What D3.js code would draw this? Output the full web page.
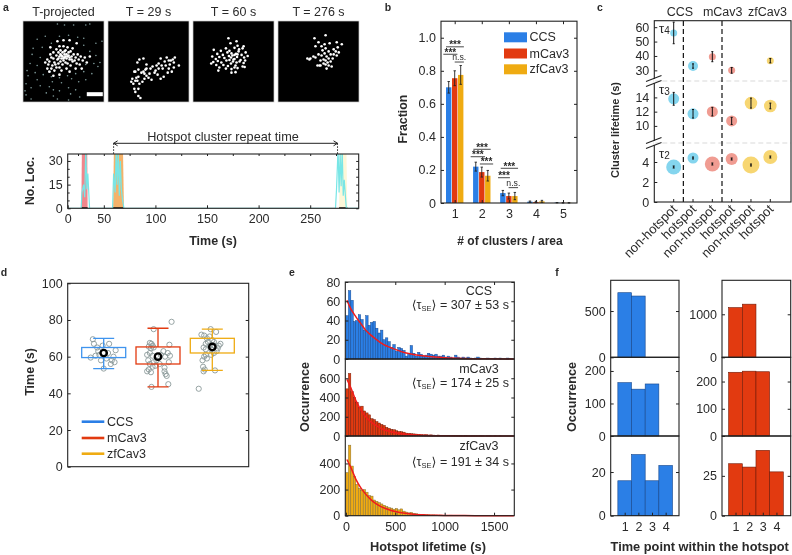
<!DOCTYPE html>
<html><head><meta charset="utf-8">
<script src="https://cdn.jsdelivr.net/npm/d3@7"></script>
<style>html,body{margin:0;background:#fff}svg{display:block;filter:blur(0.3px)}text{font-family:"Liberation Sans","DejaVu Sans",Arial,sans-serif;fill:#2a2a2a}</style>
</head><body><div id="c"></div>
<script>
// ---------- data ----------
const imageTitles=["T-projected","T = 29 s","T = 60 s","T = 276 s"];
const dotsBright=[[22,41],[24,38],[26,40],[28,36],[25,43],[29,44],[31,41],[30,37],[33,34],[35,31],[36,35],[34,38],[37,29],[39,31],[38,34],[40,37],[37,40],[35,42],[33,46],[31,49],[36,46],[39,43],[42,41],[41,36],[43,33],[42,29],[45,31],[44,35],[46,38],[44,42],[47,44],[49,40],[48,35],[47,30],[50,33],[52,36],[51,39],[53,42],[55,38],[54,33],[57,35],[59,39],[61,36],[56,43],[49,27],[44,26],[40,25],[36,25],[33,28],[30,31],[27,33],[41,33],[39,35],[43,37],[45,34],[42,35],[38,37],[40,39],[41,30],[46,36],[37,33],[35,37],[48,38],[32,43],[28,47],[24,47],[26,50],[43,47],[38,49],[46,50],[52,47],[30,54],[36,53],[58,47],[63,41],[66,35],[40,19],[46,19],[34,20],[53,22],[27,26]];
const dotsDim=[[34,3],[41,4],[50,4],[62,4],[66,3],[14,18],[22,15],[36,15],[45,14],[54,16],[60,17],[78,20],[10,27],[19,26],[28,22],[60,24],[72,22],[9,33],[17,36],[66,30],[72,34],[76,41],[7,42],[14,44],[62,43],[70,42],[74,45],[4,49],[12,51],[20,53],[28,55],[36,56],[44,54],[52,52],[60,50],[68,52],[5,54],[14,58],[27,50],[29,60],[38,61],[48,57],[55,60],[62,58],[3,62],[8,66],[17,64],[26,65],[30,68],[36,69],[45,66],[52,68],[2,69],[3,73],[8,77],[23,71],[30,74],[34,77],[45,78],[47,72],[56,75]];
const dots29=[[29,41],[31,38],[35,37],[38,43],[27,50],[26,50],[30,48],[35,50],[38,47],[42,47],[44,45],[48,44],[50,42],[52,37],[56,40],[60,39],[62,39],[64,38],[58,36],[66,36],[70,44],[61,43],[57,44],[65,46],[54,47],[59,51],[63,50],[55,55],[52,57],[49,53],[46,51],[41,52],[38,54],[36,52],[33,51],[30,55],[28,56],[29,59],[27,59],[24,57],[23,60],[25,62],[26,67],[30,67],[27,70],[30,74],[32,76],[36,57],[40,56],[43,58],[31,62],[34,60],[37,48],[47,49],[53,44],[50,47],[60,47],[65,41]];
const dots60=[[35,17],[43,20],[37,22],[44,24.5],[50,25],[20.5,28.5],[27.5,29.5],[32.5,27],[36,29.5],[41,26.5],[45.5,28],[49,27],[52,31],[24,32.5],[29.5,33.5],[34,31],[38,32],[42.5,32.5],[45,30],[48,33.5],[50.5,36],[19,35],[22.5,37.5],[26,35.5],[31,36.5],[35.5,34.5],[37.5,36],[41,37.5],[43.5,35.5],[47,38.5],[51.5,39],[54,34.5],[20,40.5],[24.5,39.5],[28,41],[33,39],[36,38.5],[39.5,40],[43,41],[46,40],[50,41.5],[18,42],[23,43.5],[26,46],[30,43.5],[34.5,44.5],[37.5,42],[42,44],[44,46.5],[49,45],[25,49],[32.5,47],[38,47.5],[41,46],[51,45.5],[38,51],[42,50.5],[39,34],[41,33.5],[44,33],[40,38]];
const dots276=[[47,14],[36,17],[40,21],[46,23],[51,22],[58,21],[63,23],[37,25],[43,25],[47,27],[55,28],[59,26],[44,29],[50,30],[57,30],[60,31],[52,33],[55,33],[58,34],[40,33],[46,32],[43,34],[48,35],[35,35],[37,36],[50,37],[54,37],[32,37],[45,38],[42,39],[47,39],[31,38],[29,37],[49,41],[45,42],[52,40],[39,44],[42,44],[50,44],[47,43],[48,47],[41,44],[53,45]];

const traceT=[15,28,28.8,30.4,31.5,32.5,33.5,34.5,36.2,58.5,59.5,61,62,63,64,65,66,67,68,69.5,274.5,275.5,277,278,279,280,281,282,283,285,297];
const traceV=[0,0,10,15,7,38,12,22,0,0,22,10,38,15,36,8,30,12,6,0,0,12,38,10,36,14,38,8,18,0,0];
const hotT=[[28.2,28.8,33.9,34.3],[59,59.8,68.5,69.5],[278,279,285,286]];
const hotV=[0,40,40,0];
const hotColors=["#f0868c","#f4b26a","#fdf7d8"];
const repeatLabel="Hotspot cluster repeat time";
const repeatFrom=59.5, repeatTo=276.5;
const timeTickT=[15,50,100,150,200,250], timeTickL=["0","50","100","150","200","250"];

const groupsB=[1,2,3,4,5];
const seriesNames=["CCS","mCav3","zfCav3"];
const fracCCS=[0.70,0.22,0.06,0.008,0.002], errCCS=[0.035,0.027,0.016,0.004,0.001];
const fracM=[0.755,0.187,0.042,0.006,0.001], errM=[0.045,0.03,0.018,0.004,0.001];
const fracZ=[0.775,0.165,0.042,0.01,0.001], errZ=[0.057,0.032,0.022,0.006,0.001];
const sigX1=[0.68,0.58,1.0,1.69,1.59,1.93,2.70,2.60,2.99];
const sigX2=[1.34,1.10,1.34,2.33,2.12,2.42,3.34,3.04,3.34];
const sigY=[0.945,0.90,0.853,0.325,0.28,0.236,0.21,0.153,0.093];
const sigLabel=["***","***","n.s.","***","***","***","***","***","n.s."];

const cCats=["non-hotspot","hotspot","non-hotspot","hotspot","non-hotspot","hotspot"];
const tau4=[56,33,39.5,30,null,36.7], tau4E=[7.5,1.5,3.5,2,0,1.5], tau4R=[3.5,5,3.5,3.5,0,3.5];
const tau3=[13.8,11.7,12,10.7,13.2,12.8], tau3E=[0.9,0.6,0.6,0.5,0.7,0.4], tau3R=[5.5,5.5,5.5,5.5,6.3,6.3];
const tau2=[3.5,4.4,3.8,4.3,3.7,4.5], tau2E=[0.1,0.1,0.1,0.1,0.1,0.1], tau2R=[7.5,5.5,7.5,6,8.5,7];
const cTicks=[0,2,4,10,12,14,30,40,50,60];

const boxQ1=[59.5,56,62], boxQ3=[65,65.3,70], boxLo=[53.5,43.5,52.5], boxHi=[70,75.5,75], boxMean=[62,60,65.3];
const ptsCCS=[[-.2,69.5],[-.18,67],[-.12,65],[.1,67],[.22,63.5],[-.24,59.5],[-.08,61],[.05,59],[.15,58],[.2,57],[.13,56],[0,53.5],[-.1,63],[-.02,66],[.08,62],[-.15,60.5],[.18,60],[-.05,58]];
const ptsM=[[-.08,75],[.25,79],[.21,66.5],[-.15,67.5],[-.12,67],[-.1,66],[-.17,65.5],[-.13,64.5],[-.08,65],[-.15,62],[-.2,61],[.1,63],[.18,62],[.13,60],[.22,60.5],[-.18,58],[-.08,57],[-.03,58],[.2,57],[-.15,56],[-.1,54.5],[-.05,55],[.12,54],[-.2,52],[-.13,51.5],[-.17,53],[.12,52],[.14,50.5],[.16,49.5],[.03,56],[-.12,43.5],[.19,45],[-.1,60.5],[.05,61]];
const ptsZ=[[-.03,75],[.07,73.5],[-.15,71.5],[-.05,71],[-.1,70],[-.2,72],[0,69],[.03,68],[-.08,68],[-.12,67],[.12,66],[.15,67],[.1,64.5],[-.16,65],[-.12,64],[-.05,66],[.03,62],[-.02,61],[-.12,61],[-.15,60],[-.18,58],[-.1,59],[-.17,54.5],[-.14,53],[-.16,52],[.05,52.5],[-.25,42.5],[.04,66],[-.02,64],[.08,63]];

const binWidth=25;
const histCCS=[45,71,61,39,40,46,41,30,45,35,38,39,32,27,30,20,22,18,12,15,8,12,11,9,3,6,14,6,3,7,5,3,4,6,5,4,5,3,3,4,2,3,2,1,4,2,1,2,1,2,1,0,1,2,1,0,0,1,0,0,1,0,1,0,0,1,0,0];
const histM=[490,650,460,400,350,300,310,260,240,220,180,170,150,135,120,110,90,80,70,65,55,48,45,40,30,28,25,22,20,18,15,12,14,10,12,9,8,10,6,6,5,8,4,4,3,5,3,2,3,2,1,2,1,1,2,1,0,1,1,0,1,0,1,0,0,0,0,0];
const histZ=[330,540,380,300,240,210,195,200,180,155,150,120,110,100,90,80,70,62,58,50,55,45,52,35,28,22,25,18,15,12,10,9,8,7,6,6,5,4,5,3,3,2,4,3,2,1,2,1,1,1,0,1,0,1,0,0,1,0,0,0,1,0,0,0,0,0,0,0];
const fitT=[10,50,100,150,200,250,300,350,400,450,500,600,700,800,900,1000,1200,1400,1700];
const fitCCS=[61,52,44,37,30,25,21,17,14,12,10,6.5,4.5,3,2,1.3,.6,.3,.1];
const fitM=[590,500,370,275,200,150,112,82,60,45,33,18,10,5,3,1.5,.5,.2,.1];
const fitZ=[430,370,280,215,165,125,95,72,55,42,32,18,10,6,3.5,2,.7,.2,.1];
const histText=["⟨τ","⟩ = 307 ± 53 s","⟩ = 174 ± 25 s","⟩ = 191 ± 34 s"];

const tpCats=[1,2,3,4];
const fBlue1=[698,662,null,null], fBlue2=[164,144,160,null], fBlue3=[16,28,16,23];
const fRed1=[1155,1235,null,null], fRed2=[234,238,236,null], fRed3=[32.6,30.5,41,27.5];

// ---------- helpers ----------
const blue="#2b7fe6", red="#e23a10", orange="#efab12", TICK=12.5;
const svg=d3.select("#c").append("svg").attr("width",792).attr("height",555);
const txt=(x,y,s,o={})=>{const t=svg.append("text").attr("x",x).attr("y",y).attr("font-size",o.size||12)
  .attr("text-anchor",o.anchor||"middle").attr("dominant-baseline","central").attr("font-weight",o.bold?"bold":"normal").text(s);
  if(o.rot)t.attr("transform",`rotate(${o.rot} ${x} ${y})`);return t;};
function frame(xr,yr){svg.append("rect").attr("x",xr[0]).attr("y",yr[1]).attr("width",xr[1]-xr[0]).attr("height",yr[0]-yr[1])
  .attr("fill","none").attr("stroke","#222").attr("stroke-width",1.1);}
function clean(g){g.select(".domain").remove();g.selectAll("line").attr("stroke","#222").attr("stroke-width",1);g.selectAll("text").attr("font-size",TICK);return g;}
function axL(y,x,vals,fmt,len=3){return clean(svg.append("g").attr("transform",`translate(${x},0)`).call(d3.axisLeft(y).tickValues(vals).tickSizeInner(-len).tickSizeOuter(0).tickPadding(5).tickFormat(fmt||d3.format("d"))));}
function axR(y,x,vals,len=3){return clean(svg.append("g").attr("transform",`translate(${x},0)`).call(d3.axisRight(y).tickValues(vals).tickSizeInner(-len).tickSizeOuter(0).tickFormat("")));}
function axB(s,y,vals,fmt,len=3){return clean(svg.append("g").attr("transform",`translate(0,${y})`).call(d3.axisBottom(s).tickValues(vals).tickSizeInner(-len).tickSizeOuter(0).tickPadding(6).tickFormat(fmt||d3.format("d"))));}
function axT(s,y,vals,len=3){return clean(svg.append("g").attr("transform",`translate(0,${y})`).call(d3.axisTop(s).tickValues(vals).tickSizeInner(-len).tickSizeOuter(0).tickFormat("")));}

[["a",6,7],["b",388,7],["c",600,7],["d",4,272],["e",292,272],["f",557,272]].forEach(d=>txt(d[1],d[2],d[0],{bold:true,size:10.5}));

// ---------- a images ----------
const imgX=[23,108,193,278];
[[dotsBright,dotsDim],[dots29],[dots60],[dots276]].forEach((sets,i)=>{
  const x=d3.scaleLinear().domain([0,80]).range([imgX[i],imgX[i]+81]);
  const y=d3.scaleLinear().domain([0,80]).range([21,102]);
  svg.append("rect").attr("x",imgX[i]).attr("y",21).attr("width",81).attr("height",81).attr("fill","#000").attr("stroke","#ccc").attr("stroke-width",.7);
  txt(imgX[i]+40.5,11.5,imageTitles[i],{size:12.5});
  if(sets[1])svg.append("g").selectAll("circle").data(sets[1]).join("circle").attr("cx",d=>x(d[0])).attr("cy",d=>y(d[1])).attr("r",.8).attr("fill","#7f9a9a");
  svg.append("g").selectAll("circle").data(sets[0]).join("circle").attr("cx",d=>x(d[0])).attr("cy",d=>y(d[1])).attr("r",1.3).attr("fill","#fff");
  if(!i)svg.append("rect").attr("x",x(63)).attr("y",y(70.3)).attr("width",16).attr("height",4).attr("fill","#fff");
});

// ---------- a trace ----------
{
 const x=d3.scaleLinear().domain([15,297]).range([67.7,358.7]);
 const y=d3.scaleLinear().domain([0,34.4]).range([208.3,154]);
 svg.append("defs").append("clipPath").attr("id","clipA").append("rect").attr("x",67.7).attr("y",154).attr("width",291).attr("height",54.3);
 const g=svg.append("g").attr("clip-path","url(#clipA)");
 hotT.forEach((ts,i)=>{
   g.append("path").datum(ts.map((t,k)=>[t,hotV[k]])).attr("fill",hotColors[i]).attr("d",d3.area().x(d=>x(d[0])).y0(y(0)).y1(d=>y(d[1])));
   g.append("line").attr("x1",x(ts[0])).attr("x2",x(ts[3])).attr("y1",y(0)).attr("y2",y(0)).attr("stroke","#111").attr("stroke-width",2);
 });
 g.append("path").datum(traceT.map((t,i)=>[t,traceV[i]])).attr("fill","none").attr("stroke","#78e6e6").attr("stroke-width",1.2)
  .attr("d",d3.line().x(d=>x(d[0])).y(d=>y(d[1])));
 frame([67.7,358.7],[208.3,154]);
 axL(y,67.7,[0,15,30]);
 const minors=[5,10,20,25];
 axL(y,67.7,minors,()=>"",2); axR(y,358.7,[0,5,10,15,20,25,30],2.5);
 axB(x,208.3,timeTickT,(d,i)=>timeTickL[i]); axT(x,154,[50,100,150,200,250,25,75,125,175,225,275],2);
 txt(30,181,"No. Loc.",{bold:true,rot:-90,size:12.2});
 txt(213,241,"Time (s)",{bold:true,size:12.5});
 txt(223,136.5,repeatLabel,{size:12.7});
 const ay=143.3;
 svg.append("line").attr("x1",x(repeatFrom)).attr("x2",x(repeatTo)).attr("y1",ay).attr("y2",ay).attr("stroke","#222").attr("stroke-width",1);
 [[repeatFrom,1],[repeatTo,-1]].forEach(([t,s])=>{
   svg.append("path").attr("d",`M${x(t)+4*s},${ay-2.5}L${x(t)},${ay}L${x(t)+4*s},${ay+2.5}`).attr("fill","none").attr("stroke","#222");
   svg.append("line").attr("x1",x(t)).attr("x2",x(t)).attr("y1",ay).attr("y2",154).attr("stroke","#222").attr("stroke-dasharray","1.5 1.5");
 });
}

// ---------- b ----------
{
 const x=d3.scaleLinear().domain([1,5]).range([454.7,563]);
 const y=d3.scaleLinear().domain([0,1.1]).range([203,21.2]);
 const off=[-6,0,6], colors=[blue,red,orange], vals=[fracCCS,fracM,fracZ], errs=[errCCS,errM,errZ];
 vals.forEach((v,s)=>{
   const g=svg.append("g");
   g.selectAll("rect").data(groupsB).join("rect").attr("x",d=>x(d)+off[s]-2.7).attr("width",5.4)
    .attr("y",(d,i)=>y(v[i])).attr("height",(d,i)=>y(0)-y(v[i])).attr("fill",colors[s]);
   groupsB.forEach((d,i)=>{
     const cx=x(d)+off[s],a=y(v[i]-errs[s][i]),b=y(v[i]+errs[s][i]);
     g.append("path").attr("d",`M${cx},${a}V${b}M${cx-1.2},${a}h2.4M${cx-1.2},${b}h2.4`).attr("stroke","#222").attr("fill","none").attr("stroke-width",.9);
   });
 });
 sigLabel.forEach((l,i)=>{
   svg.append("line").attr("x1",x(sigX1[i])).attr("x2",x(sigX2[i])).attr("y1",y(sigY[i])).attr("y2",y(sigY[i])).attr("stroke","#333").attr("stroke-width",.9);
   txt((x(sigX1[i])+x(sigX2[i]))/2,y(sigY[i])-(l==="***"?2:5),l,{size:l==="***"?10:8.7,bold:l==="***"});
 });
 frame([441,577],[203,21.2]);
 axL(y,441,[0,.2,.4,.6,.8,1],d=>d===0?"0":d3.format(".1f")(d));
 axR(y,577,[.2,.4,.6,.8,1]);
 axB(x,203,groupsB); axT(x,21.2,groupsB);
 seriesNames.forEach((n,i)=>{
   const sy=[32.3,48.5,64.3][i];
   svg.append("rect").attr("x",504).attr("y",sy).attr("width",23).attr("height",10).attr("fill",colors[i]);
   txt(529.5,sy+5,n,{anchor:"start",size:12.5});
 });
 txt(403,119,"Fraction",{rot:-90,bold:true,size:12.4});
 txt(510,241,"# of clusters / area",{bold:true});
}

// ---------- c ----------
{
 const x=d3.scaleLinear().domain([0,5]).range([673.7,770.3]);
 const y=d3.scaleLinear().domain([0,5.9,7.6,16.3,22.6,64.5]).range([202,143,143,81,81,20.7]);
 const col=["#84d5ee","#84d5ee","#f09c92","#f09c92","#f7d672","#f7d672"];
 [[tau2,tau2E,tau2R],[tau3,tau3E,tau3R],[tau4,tau4E,tau4R]].forEach(([v,e,r])=>{
   cCats.forEach((c,i)=>{ if(v[i]===null)return;
     svg.append("circle").attr("cx",x(i)).attr("cy",y(v[i])).attr("r",r[i]).attr("fill",col[i]);
     const a=y(v[i]-e[i]),b=y(v[i]+e[i]);
     svg.append("path").attr("d",`M${x(i)},${a}V${b}M${x(i)-1},${a}h2M${x(i)-1},${b}h2`).attr("stroke","#111").attr("stroke-width",1).attr("fill","none");
   });
 });
 [81,143].forEach(py=>{
   svg.append("line").attr("x1",654.3).attr("x2",791).attr("y1",py).attr("y2",py).attr("stroke","#d9d9d9").attr("stroke-dasharray","5 3");
 });
 [.5,2.5].forEach(k=>svg.append("line").attr("x1",x(k)).attr("x2",x(k)).attr("y1",21).attr("y2",202).attr("stroke","#111").attr("stroke-width",1.2).attr("stroke-dasharray","5 3"));
 frame([654.3,791],[202,20.7]);
 [81,143].forEach(py=>{
   svg.append("line").attr("x1",654.3).attr("x2",654.3).attr("y1",py-2).attr("y2",py+2).attr("stroke","#fff").attr("stroke-width",2);
   [-2.5,2.5].forEach(o=>svg.append("line").attr("x1",646).attr("x2",661.5).attr("y1",py+3+o).attr("y2",py-3+o).attr("stroke","#222").attr("stroke-width",1.1));
 });
 axL(y,654.3,cTicks);
 cCats.forEach((c,i)=>{
   svg.append("line").attr("x1",x(i)).attr("x2",x(i)).attr("y1",202).attr("y2",199).attr("stroke","#222");
   svg.append("text").attr("transform",`translate(${x(i)+4},210) rotate(-45)`).attr("text-anchor","end").attr("font-size",13).text(c);
 });
 [["CCS",680],["mCav3",722.7],["zfCav3",767.5]].forEach(d=>txt(d[1],11.5,d[0],{size:12.5}));
 [["4",28],["3",89],["2",153]].forEach(d=>{
   const t=txt(659,d[1],"τ",{anchor:"start",size:13});
   t.append("tspan").attr("font-size",10).attr("dy",1.5).text(d[0]);
 });
 txt(615,130,"Cluster lifetime (s)",{rot:-90,bold:true,size:11});
}

// ---------- d ----------
{
 const x=d3.scaleLinear().domain([1,3]).range([103.7,212.3]);
 const y=d3.scaleLinear().domain([0,100]).range([466.7,283.3]);
 [ptsCCS,ptsM,ptsZ].forEach((p,s)=>{
   svg.append("g").selectAll("circle").data(p).join("circle").attr("cx",d=>x(s+1+d[0])).attr("cy",d=>y(d[1])).attr("r",2.6)
    .attr("fill","none").attr("stroke","#8b9a9a").attr("stroke-width",.9);
 });
 [blue,red,orange].forEach((c,i)=>{
   const cx=x(i+1),g=svg.append("g").attr("stroke",c==blue?"#3f94ee":c).attr("stroke-width",1.3).attr("fill","none");
   g.append("rect").attr("x",cx-22).attr("width",44).attr("y",y(boxQ3[i])).attr("height",y(boxQ1[i])-y(boxQ3[i]));
   g.append("path").attr("d",`M${cx},${y(boxLo[i])}V${y(boxQ1[i])}M${cx},${y(boxQ3[i])}V${y(boxHi[i])}M${cx-10.5},${y(boxLo[i])}h21M${cx-10.5},${y(boxHi[i])}h21`);
   svg.append("circle").attr("cx",cx).attr("cy",y(boxMean[i])).attr("r",3.2).attr("fill","none").attr("stroke","#000").attr("stroke-width",2.3);
 });
 frame([67.7,248.7],[466.7,283.3]);
 axL(y,67.7,[0,20,40,60,80,100]); axR(y,248.7,[20,40,60,80]);
 seriesNames.forEach((n,i)=>{
   const ly=[421.7,438,453.7][i];
   svg.append("line").attr("x1",81.7).attr("x2",104.3).attr("y1",ly).attr("y2",ly).attr("stroke",[blue,red,orange][i]).attr("stroke-width",2.6);
   txt(107,ly,n,{anchor:"start",size:12.5});
 });
 txt(30,372,"Time (s)",{rot:-90,bold:true,size:12.5});
}

// ---------- e ----------
{
 const x=d3.scaleLinear().domain([-6,1705]).range([345.3,514.3]);
 const rows=[
  {h:histCCS,f:fitCCS,y:d3.scaleLinear().domain([0,80]).range([359,282]),t:[0,20,40,60,80],c:blue,s:"#15458a",n:"CCS",v:histText[1],a:8.7,b:23},
  {h:histM,f:fitM,y:d3.scaleLinear().domain([0,800]).range([436,359]),t:[0,200,400,600],c:red,s:"#701a08",n:"mCav3",v:histText[2],a:10,b:24},
  {h:histZ,f:fitZ,y:d3.scaleLinear().domain([0,610]).range([515.7,436]),t:[0,200,400],c:orange,s:"#7d6a3a",n:"zfCav3",v:histText[3],a:10,b:25.7}];
 rows.forEach(r=>{
   svg.append("g").selectAll("rect").data(r.h).join("rect").attr("x",(d,i)=>x(i*binWidth)).attr("width",x(binWidth)-x(0))
    .attr("y",d=>r.y(d)).attr("height",d=>r.y(0)-r.y(d)).attr("fill",r.c).attr("stroke",r.s).attr("stroke-width",.45);
   svg.append("path").datum(fitT.map((t,i)=>[t,r.f[i]])).attr("fill","none").attr("stroke","#f01c1c").attr("stroke-width",1.5)
    .attr("d",d3.line().x(d=>x(d[0])).y(d=>r.y(d[1])).curve(d3.curveMonotoneX));
   const yb=r.y.range()[1];
   frame([345.3,514.3],r.y.range());
   axL(r.y,345.3,r.t); axR(r.y,514.3,r.t.filter(d=>d>0));
   txt(479,yb+r.a,r.n,{size:12.5});
   const t=txt(509,yb+r.b,histText[0],{anchor:"end",size:12.5});
   t.append("tspan").attr("font-size",7.5).attr("dy",3).text("SE");
   t.append("tspan").attr("dy",-3).text(r.v);
 });
 axB(x,515.7,[0,500,1000,1500]); axT(x,282,[500,1000,1500]);
 txt(305,397,"Occurrence",{rot:-90,bold:true,size:12.6});
 txt(428,546.7,"Hotspot lifetime (s)",{bold:true,size:12.8});
}

// ---------- f ----------
{
 const rowsY=[[357.3,280.3],[436,357.3],[515.7,436]];
 const cols=[
  {xr:[610.7,679],c1:624.7,fill:blue,st:"#15458a",vals:[fBlue1,fBlue2,fBlue3],dom:[832,242,36.5],ticks:[[0,500],[0,100,200],[0,20]]},
  {xr:[722,790.7],c1:735.5,fill:red,st:"#701a08",vals:[fRed1,fRed2,fRed3],dom:[1790,289,50],ticks:[[0,1000],[0,100,200],[0,25]]}];
 cols.forEach(c=>{
   const x=d3.scaleBand().domain(tpCats).range([c.c1-6.85,c.c1+3*13.65+6.85]);
   c.vals.forEach((v,r)=>{
     const y=d3.scaleLinear().domain([0,c.dom[r]]).range(rowsY[r]);
     svg.append("g").selectAll("rect").data(tpCats.filter((d,i)=>v[i]!==null)).join("rect")
       .attr("x",d=>x(d)).attr("width",x.bandwidth()).attr("y",d=>y(v[d-1])).attr("height",d=>y(0)-y(v[d-1]))
       .attr("fill",c.fill).attr("stroke",c.st).attr("stroke-width",.6);
     frame(c.xr,rowsY[r]);
     axL(y,c.xr[0],c.ticks[r]);
     axR(y,c.xr[1],c.ticks[r].slice(1));
     if(r==2){
       const pt=d3.scalePoint().domain(tpCats).range([c.c1,c.c1+3*13.65]);
       axB(pt,515.7,tpCats);
     }
   });
 });
 txt(571.7,397,"Occurrence",{rot:-90,bold:true,size:12.6});
 txt(699.7,546.7,"Time point within the hotspot",{bold:true,size:12.8});
}
</script></body></html>
